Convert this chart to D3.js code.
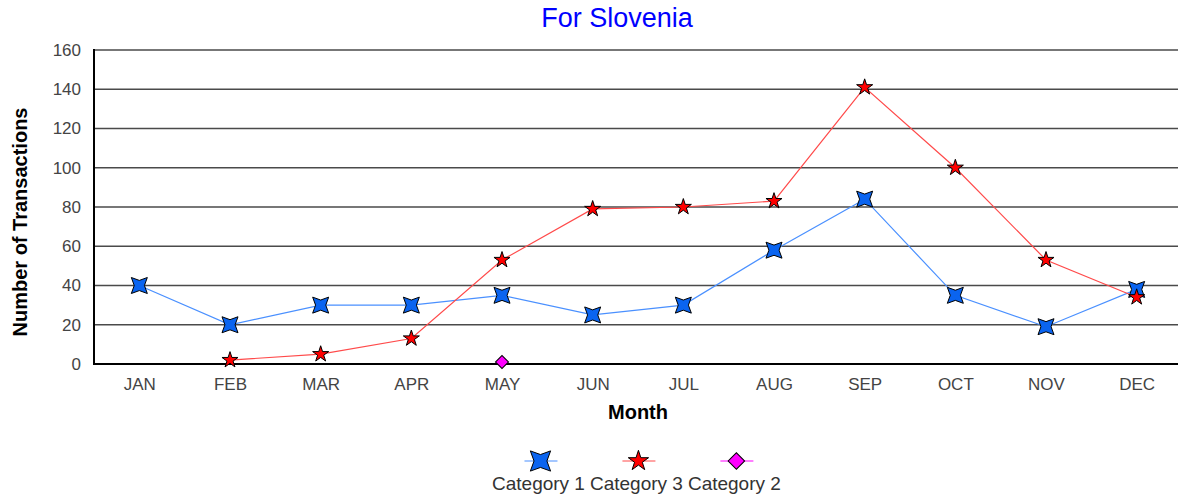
<!DOCTYPE html>
<html>
  <head>
    <meta http-equiv="Content-Type" content="text/html; charset=UTF-8">
    <script src="https://d3js.org/d3.v7.min.js"></script>
    <style type="text/css">
      body { margin: 0; background: #fff; }
      text { font-family: 'Liberation Sans', Arial, sans-serif; }
    </style>
  </head>
  <body>
    <div id="canvas"></div>
    <script type="text/javascript">
      // chart data
      var months = ['JAN','FEB','MAR','APR','MAY','JUN','JUL','AUG','SEP','OCT','NOV','DEC'];
      var category1 = [40, 20, 30, 30, 35, 25, 30, 58, 84, 35, 19, 38];
      var category3 = [null, 2, 5, 13, 53, 79, 80, 83, 141, 100, 53, 34];
      var category2 = [null, null, null, null, 1, null, null, null, null, null, null, null];
      var yTicks = [0, 20, 40, 60, 80, 100, 120, 140, 160];
      var legendOrder = ['Category 1', 'Category 3', 'Category 2'];

      var width = 1178, height = 501;

      // four pointed star, points on the diagonals
      var star4 = {
        draw: function (ctx, size) {
          var R = Math.sqrt(size) * 0.8, r = R * 0.45;
          for (var i = 0; i < 8; i++) {
            var a = Math.PI / 4 + i * Math.PI / 4;
            var rad = (i % 2 == 0) ? R : r;
            var x = rad * Math.cos(a), y = rad * Math.sin(a);
            if (i == 0) ctx.moveTo(x, y); else ctx.lineTo(x, y);
          }
          ctx.closePath();
        }
      };

      var series = [
        { name: 'Category 1', values: category1, line: '#4a90ff', fill: '#0a64f0', shape: star4, size: 200, rotate: 0 },
        { name: 'Category 3', values: category3, line: '#ff4a4a', fill: '#ff0000', shape: d3.symbolStar, size: 80, rotate: 0 },
        { name: 'Category 2', values: category2, line: '#ff00ff', fill: '#ff00ff', shape: d3.symbolSquare, size: 85, rotate: 45 }
      ];

      var svg = d3.select('#canvas').append('svg')
        .attr('width', width)
        .attr('height', height);

      var x = d3.scalePoint().domain(months).range([94, 1182]).padding(0.5);
      var y = d3.scaleLinear().domain([0, 160]).range([364, 50]);

      // title
      svg.append('text')
        .attr('x', 617).attr('y', 27)
        .attr('text-anchor', 'middle')
        .style('font-size', '27px')
        .style('fill', '#0000ff')
        .text('For Slovenia');

      // grid lines
      svg.append('g').selectAll('line')
        .data(yTicks.filter(function (d) { return d > 0; }))
        .enter().append('line')
        .attr('x1', 94).attr('x2', 1182)
        .attr('y1', function (d) { return y(d); })
        .attr('y2', function (d) { return y(d); })
        .style('stroke', '#4a4a4a')
        .style('stroke-width', 1.6);

      // y axis labels
      var yAxis = svg.append('g')
        .attr('transform', 'translate(94,0)')
        .call(d3.axisLeft(y).tickValues(yTicks).tickSize(0).tickPadding(13));
      yAxis.select('.domain').remove();
      yAxis.selectAll('text')
        .style('font-size', '17px')
        .style('font-family', "'Liberation Sans', Arial, sans-serif")
        .style('fill', '#444');

      // x axis labels
      var xAxis = svg.append('g')
        .attr('transform', 'translate(0,364)')
        .call(d3.axisBottom(x).tickSize(0).tickPadding(14));
      xAxis.select('.domain').remove();
      xAxis.selectAll('text')
        .style('font-size', '17px')
        .style('font-family', "'Liberation Sans', Arial, sans-serif")
        .style('fill', '#444');

      // axis lines
      svg.append('line')
        .attr('x1', 94).attr('x2', 1182)
        .attr('y1', y(0)).attr('y2', y(0))
        .style('stroke', '#000').style('stroke-width', 2);
      svg.append('line')
        .attr('x1', 94).attr('x2', 94)
        .attr('y1', y(160) - 1).attr('y2', y(0) + 1)
        .style('stroke', '#000').style('stroke-width', 2);

      // axis titles
      svg.append('text')
        .attr('x', 638).attr('y', 419)
        .attr('text-anchor', 'middle')
        .style('font-size', '20px').style('font-weight', 'bold')
        .text('Month');
      svg.append('text')
        .attr('transform', 'translate(27,222) rotate(-90)')
        .attr('text-anchor', 'middle')
        .style('font-size', '20px').style('font-weight', 'bold')
        .text('Number of Transactions');

      var line = d3.line()
        .defined(function (d) { return d != null; })
        .x(function (d, i) { return x(months[i]); })
        .y(function (d) { return y(d); });

      series.forEach(function (s) {
        svg.append('path')
          .datum(s.values)
          .attr('d', line)
          .style('fill', 'none')
          .style('stroke', s.line)
          .style('stroke-width', 1.2);
      });

      series.forEach(function (s) {
        var pts = s.values.map(function (v, i) { return { v: v, m: months[i] }; })
          .filter(function (d) { return d.v != null; });
        svg.append('g').selectAll('path')
          .data(pts)
          .enter().append('path')
          .attr('d', d3.symbol().type(s.shape).size(s.size))
          .attr('transform', function (d) {
            return 'translate(' + x(d.m) + ',' + y(d.v) + ') rotate(' + s.rotate + ')';
          })
          .style('fill', s.fill)
          .style('stroke', '#000')
          .style('stroke-width', 1);
      });

      // legend
      var legend = svg.append('g');
      var cursor = 492;
      legendOrder.forEach(function (name) {
        var s = series.filter(function (d) { return d.name == name; })[0];
        var t = legend.append('text')
          .attr('x', cursor).attr('y', 490)
          .style('font-size', '19px')
          .style('fill', '#333')
          .text(name);
        var w = t.node().getComputedTextLength();
        var cx = cursor + w / 2 + 2;
        legend.append('line')
          .attr('x1', cx - 16).attr('x2', cx + 17)
          .attr('y1', 461).attr('y2', 461)
          .style('stroke', s.line).style('stroke-width', 1.2);
        legend.append('path')
          .attr('d', d3.symbol().type(s.shape).size(s.size * 1.6))
          .attr('transform', 'translate(' + cx + ',461) rotate(' + s.rotate + ')')
          .style('fill', s.fill)
          .style('stroke', '#000');
        cursor += w + 5;
      });
    </script>
  </body>
</html>
